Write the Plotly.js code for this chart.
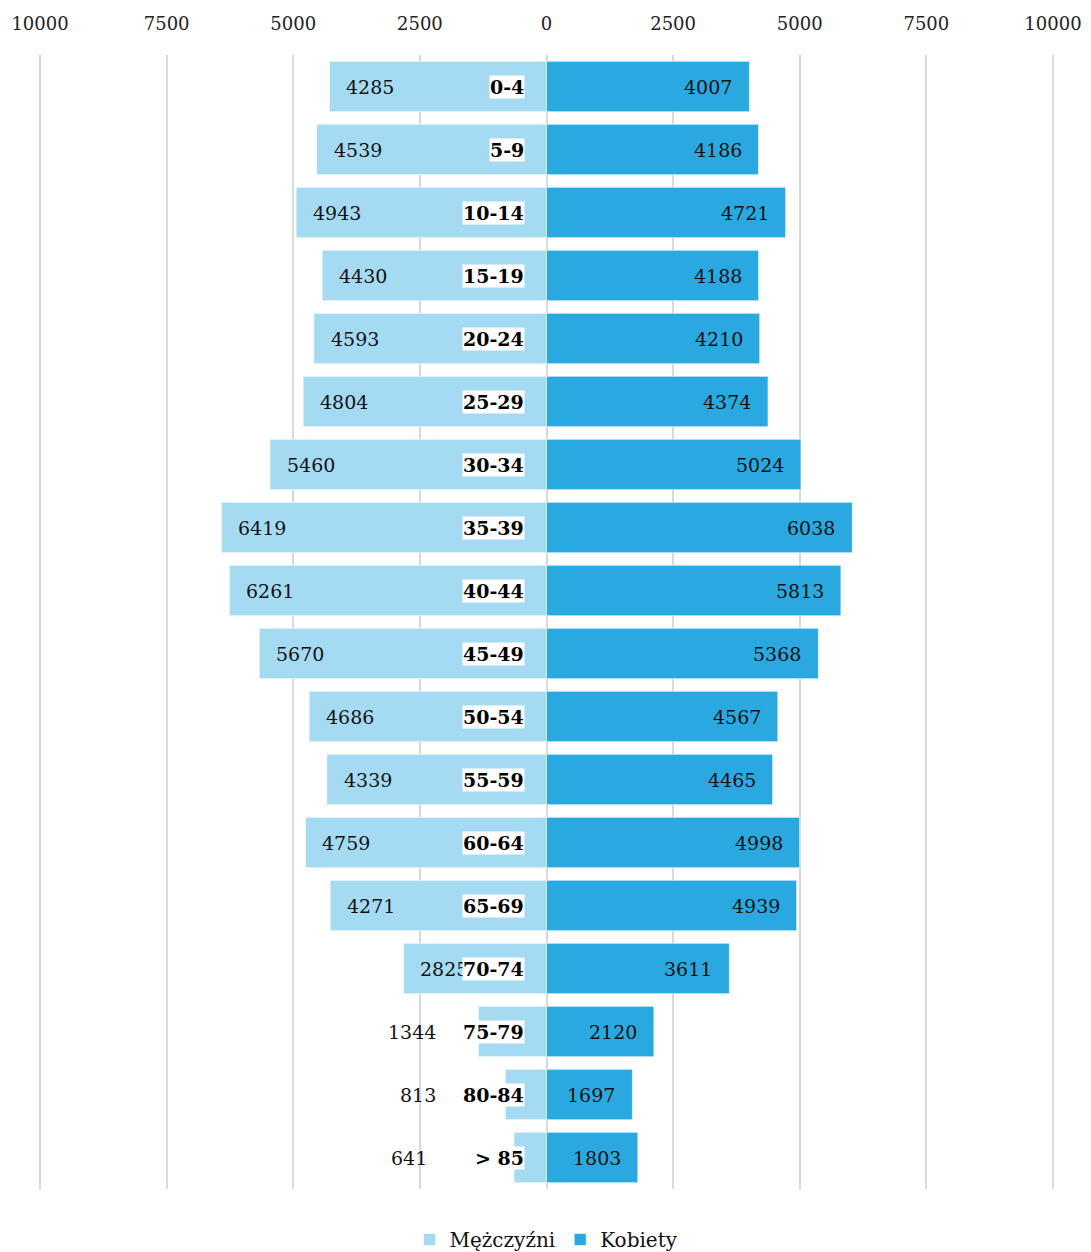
<!DOCTYPE html>
<html>
<head>
<meta charset="utf-8">
<script src="https://cdn.plot.ly/plotly-3.0.1.min.js"></script>
<style>
  html, body { margin: 0; padding: 0; background: #ffffff; }
  #chart { width: 1091px; height: 1252px; }
</style>
</head>
<body>
<div id="chart"></div>
<script>
// Age groups, top to bottom
const ageGroups = ['0-4', '5-9', '10-14', '15-19', '20-24', '25-29', '30-34', '35-39', '40-44',
  '45-49', '50-54', '55-59', '60-64', '65-69', '70-74', '75-79', '80-84', '> 85'];

// Population by sex
const men = [4285, 4539, 4943, 4430, 4593, 4804, 5460, 6419, 6261, 5670, 4686, 4339, 4759, 4271, 2825, 1344, 813, 641];
const women = [4007, 4186, 4721, 4188, 4210, 4374, 5024, 6038, 5813, 5368, 4567, 4465, 4998, 4939, 3611, 2120, 1697, 1803];

// Axis ticks (absolute values shown on both sides)
const tickValues = [-10000, -7500, -5000, -2500, 0, 2500, 5000, 7500, 10000];
const tickLabels = ['10000', '7500', '5000', '2500', '0', '2500', '5000', '7500', '10000'];

const FONT = 'DejaVu Serif, Liberation Serif, serif';
const MEN_COLOR = '#a4dbf3';
const WOMEN_COLOR = '#2aa9e1';

const traces = [
  {
    type: 'bar', orientation: 'h', name: 'Mężczyźni',
    y: ageGroups, x: men.map(v => -v),
    marker: { color: MEN_COLOR, line: { color: 'rgba(255,255,255,0.6)', width: 1 } },
    hoverinfo: 'skip'
  },
  {
    type: 'bar', orientation: 'h', name: 'Kobiety',
    y: ageGroups, x: women,
    marker: { color: WOMEN_COLOR, line: { color: 'rgba(255,255,255,0.6)', width: 1 } },
    hoverinfo: 'skip'
  }
];

const annotations = [];
const labelFont = { family: FONT, size: 19, color: '#111111' };

ageGroups.forEach((g, i) => {
  // men value: inside the bar near its outer end, or to the left of the age label when the bar is short
  if (men[i] >= 2000) {
    annotations.push({ x: -men[i], y: g, xref: 'x', yref: 'y', text: String(men[i]),
      showarrow: false, xanchor: 'left', xshift: 15, font: labelFont });
  } else {
    annotations.push({ x: 0, y: g, xref: 'x', yref: 'y', text: String(men[i]),
      showarrow: false, xanchor: 'right', xshift: men[i] < 700 ? -118 : -109, font: labelFont });
  }
  // women value: inside end
  annotations.push({ x: women[i], y: g, xref: 'x', yref: 'y', text: String(women[i]),
    showarrow: false, xanchor: 'right', xshift: -15, font: labelFont });
});

// Age-group labels, bold on a white box next to the axis
ageGroups.forEach(g => {
  annotations.push({ x: 0, y: g, xref: 'x', yref: 'y', text: '<b>' + g + '</b>',
    showarrow: false, xanchor: 'right', xshift: -22, bgcolor: '#ffffff', borderpad: 0,
    font: { family: FONT, size: 19, color: '#000000' } });
});

const layout = {
  width: 1091, height: 1252,
  margin: { l: 39, r: 37, t: 55, b: 63 },
  paper_bgcolor: '#ffffff', plot_bgcolor: '#ffffff',
  barmode: 'relative', bargap: 0.2,
  showlegend: true,
  legend: {
    orientation: 'h', x: 0.5, xanchor: 'center',
    yref: 'container', y: 0.01, yanchor: 'middle',
    font: { family: FONT, size: 20, color: '#111111' },
    traceorder: 'normal', itemwidth: 30
  },
  xaxis: {
    range: [-10020, 10020], side: 'top',
    tickvals: tickValues, ticktext: tickLabels,
    tickfont: { family: FONT, size: 18, color: '#222222' },
    ticks: '', ticklabelstandoff: 20,
    showgrid: true, gridcolor: '#d9d9d9', gridwidth: 2,
    zeroline: true, zerolinecolor: '#d9d9d9', zerolinewidth: 2,
    showline: false, fixedrange: true
  },
  yaxis: {
    type: 'category', categoryorder: 'array', categoryarray: ageGroups,
    autorange: 'reversed', showticklabels: false, showgrid: false,
    zeroline: false, showline: false, ticks: '', fixedrange: true
  },
  annotations: annotations,
  hovermode: false
};

Plotly.newPlot('chart', traces, layout, { displayModeBar: false, staticPlot: true });
</script>
</body>
</html>
